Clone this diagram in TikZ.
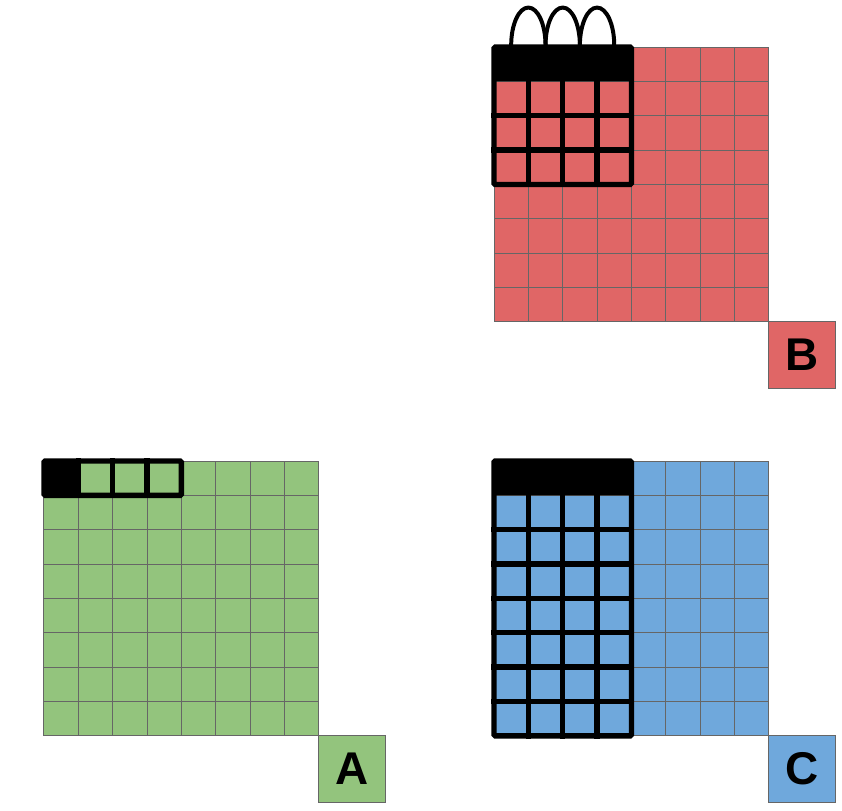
\documentclass[tikz,border=0pt]{standalone}
\usepackage{fontspec}
\setsansfont{Liberation Sans}
\usepackage{xcolor}
\usetikzlibrary{positioning}

\definecolor{cellred}{HTML}{E06666}
\definecolor{cellgreen}{HTML}{93C47D}
\definecolor{cellblue}{HTML}{6FA8DC}
\definecolor{gridgray}{HTML}{666666}

\tikzset{
	thingrid/.style={draw=gridgray, line width=0.8pt},
	thickgrid/.style={draw=black, line width=4.4pt, line cap=rect, line join=miter},
	loopline/.style={draw=black, line width=3.3pt},
	letterbox/.style={draw=gridgray, line width=0.8pt, minimum size=1.95cm, inner sep=0pt,
		font=\sffamily\bfseries\fontsize{38}{40}\selectfont}
}

\begin{document}
\begin{tikzpicture}
                    \useasboundingbox (0,0) rectangle (24.51,-23.58);

                    % Drawing panel B
                    \begin{scope}[shift={(14.38,-1.37)}]
                    \fill [cellred] (0,0) rectangle (8,-8);%
                    \foreach \i in {0,...,8} {
                        \draw [thingrid] (\i,0) -- (\i,-8);%
                        \draw [thingrid] (0,-\i) -- (8,-\i);%
                    }
                    % Marking the header row and the block below it
                    \fill [black, rounded corners=1pt] (0,0) rectangle (4,-1);%
                    \foreach \i in {1,2,3} {
                        \draw [thickgrid] (\i,-1) -- (\i,-4);%
                    }
                    \foreach \j in {2,3} {
                        \draw [thickgrid] (0,-\j) -- (4,-\j);%
                    }
                    \draw [thickgrid, rounded corners=1pt] (0,0) rectangle (4,-4);%
                    % Drawing the loops over the header
                    \foreach \i in {0,1,2} {
                        \draw [loopline] (\i+0.5,0.05) arc [start angle=180, end angle=0, x radius=0.5, y radius=1.1];%
                    }
                    \node [letterbox, fill=cellred] (labB) at (8.97,-8.96) {B};%
                    \end{scope}

                    % Drawing panel A
                    \begin{scope}[shift={(1.28,-13.42)}]
                    \fill [cellgreen] (0,0) rectangle (8,-8);%
                    \foreach \i in {0,...,8} {
                        \draw [thingrid] (\i,0) -- (\i,-8);%
                        \draw [thingrid] (0,-\i) -- (8,-\i);%
                    }
                    % Marking the first cell and the row next to it
                    \fill [black, rounded corners=1pt] (0,0) rectangle (1,-1);%
                    \foreach \i in {1,2,3} {
                        \draw [thickgrid] (\i,0) -- (\i,-1);%
                    }
                    \draw [thickgrid, rounded corners=1pt] (0,0) rectangle (4,-1);%
                    \node [letterbox, fill=cellgreen] (labA) at (8.97,-8.97) {A};%
                    \end{scope}

                    % Drawing panel C
                    \begin{scope}[shift={(14.38,-13.42)}]
                    \fill [cellblue] (0,0) rectangle (8,-8);%
                    \foreach \i in {0,...,8} {
                        \draw [thingrid] (\i,0) -- (\i,-8);%
                        \draw [thingrid] (0,-\i) -- (8,-\i);%
                    }
                    % Marking the header row and the columns below it
                    \fill [black, rounded corners=1pt] (0,0) rectangle (4,-1);%
                    \foreach \i in {1,2,3} {
                        \draw [thickgrid] (\i,-1) -- (\i,-8);%
                    }
                    \foreach \j in {2,...,7} {
                        \draw [thickgrid] (0,-\j) -- (4,-\j);%
                    }
                    \draw [thickgrid, rounded corners=1pt] (0,0) rectangle (4,-8);%
                    \node [letterbox, fill=cellblue] (labC) at (8.97,-8.97) {C};%
                    \end{scope}
\end{tikzpicture}
\end{document}
